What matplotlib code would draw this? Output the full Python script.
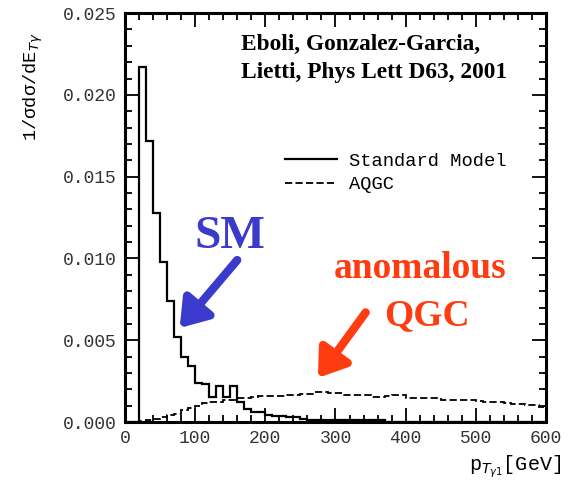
import numpy as np
import matplotlib
matplotlib.use('Agg')
import matplotlib.pyplot as plt
from matplotlib.ticker import MultipleLocator

# bin edges in GeV (10 GeV bins)
edges = np.arange(0, 610, 10)

# Standard Model distribution
sm = [0, 0, 0.0217, 0.0172, 0.0128, 0.0098, 0.0074, 0.0052, 0.0040, 0.0034,
      0.0024, 0.0023, 0.00155, 0.0022, 0.00155, 0.0022, 0.0012, 0.0008, 0.0006, 0.0006,
      0.00043, 0.0004, 0.0004, 0.0003, 0.0003, 0.00016, 0.00015, 0.00012, 0.0001, 0.0001,
      0.0001, 0.0001, 0.0001, 0.0001, 0.0001, 0.0001, 0.0001, 0, 0, 0,
      0, 0, 0, 0, 0, 0, 0, 0, 0, 0,
      0, 0, 0, 0, 0, 0, 0, 0, 0, 0]

# anomalous QGC distribution
aqgc = [0, 0, 0.00008, 0.0001, 0.00016, 0.00029, 0.00043, 0.0005, 0.00073, 0.00084,
        0.0010, 0.00114, 0.0012, 0.0012, 0.00134, 0.00134, 0.00145, 0.00145, 0.00155, 0.0016,
        0.0016, 0.00162, 0.00162, 0.00165, 0.00165, 0.0017, 0.0017, 0.00185, 0.00185, 0.00178,
        0.00175, 0.00168, 0.00165, 0.00165, 0.00163, 0.00155, 0.00155, 0.0016, 0.00165, 0.00165,
        0.0015, 0.0015, 0.00148, 0.00148, 0.00145, 0.00135, 0.00134, 0.00134, 0.00134, 0.00133,
        0.0013, 0.00125, 0.0012, 0.0012, 0.00114, 0.00112, 0.0011, 0.00106, 0.00105, 0.00095]

mono = 'Liberation Mono'
serif = 'Liberation Serif'

fig = plt.figure(figsize=(5.73, 4.84), dpi=100)
ax = fig.add_axes([0.218, 0.128, 0.735, 0.845])

ax.stairs(sm, edges, baseline=0, color='black', lw=1.6, label='Standard Model')
ax.stairs(aqgc, edges, baseline=None, color='black', lw=1.3, linestyle=(0, (4, 1.8)), label='AQGC')

ax.set_xlim(0, 600)
ax.set_ylim(0, 0.025)
ax.xaxis.set_major_locator(MultipleLocator(100))
ax.xaxis.set_minor_locator(MultipleLocator(20))
ax.yaxis.set_major_locator(MultipleLocator(0.005))
ax.yaxis.set_minor_locator(MultipleLocator(0.001))
ax.yaxis.set_major_formatter(plt.FormatStrFormatter('%.3f'))
ax.tick_params(which='both', direction='in', top=True, right=True, width=1.3, colors='black',
               labelcolor='#333333', labelsize=13)
ax.tick_params(which='major', length=10, pad=6)
ax.tick_params(which='minor', length=5)
for lab in ax.get_xticklabels() + ax.get_yticklabels():
    lab.set_family(mono)
for s in ax.spines.values():
    s.set_linewidth(2.2)

ax.set_ylabel('1/σdσ/dE$_{T\\gamma}$', family=mono, fontsize=13.5, labelpad=8)
ax.yaxis.set_label_coords(-0.19, 0.82)
fig.text(0.98, 0.035, 'p$_{T_{\\gamma 1}}$[GeV]', family=mono, fontsize=14.5, ha='right', va='center')

ax.legend(loc='upper left', bbox_to_anchor=(0.34, 0.70), frameon=False, handlelength=2.8,
          handletextpad=0.6, labelspacing=0.35, prop={'family': mono, 'size': 13.5})

ax.text(165, 0.0237, 'Eboli, Gonzalez-Garcia,\nLietti, Phys Lett D63, 2001', family=serif,
        fontweight='bold', fontsize=16.8, va='top', ha='left', linespacing=1.4)

ax.text(150, 0.0113, 'SM', family=serif, fontweight='bold', fontsize=34, color='#3a3acc',
        ha='center', va='center')
ax.annotate('', xy=(78, 0.00575), xytext=(160, 0.0099),
            arrowprops=dict(arrowstyle='-|>,head_width=0.55,head_length=0.8', lw=6,
                            color='#3a3acc', mutation_scale=20, shrinkA=0, shrinkB=0))

ax.text(420, 0.0094, 'anomalous', family=serif, fontweight='bold', fontsize=27, color='#ff3c10',
        ha='center', va='center')
ax.text(430, 0.0065, 'QGC', family=serif, fontweight='bold', fontsize=27, color='#ff3c10',
        ha='center', va='center')
ax.annotate('', xy=(275, 0.0027), xytext=(343, 0.0067),
            arrowprops=dict(arrowstyle='-|>,head_width=0.55,head_length=0.8', lw=6,
                            color='#ff3c10', mutation_scale=20, shrinkA=0, shrinkB=0))

fig.savefig('out.png', dpi=100)
